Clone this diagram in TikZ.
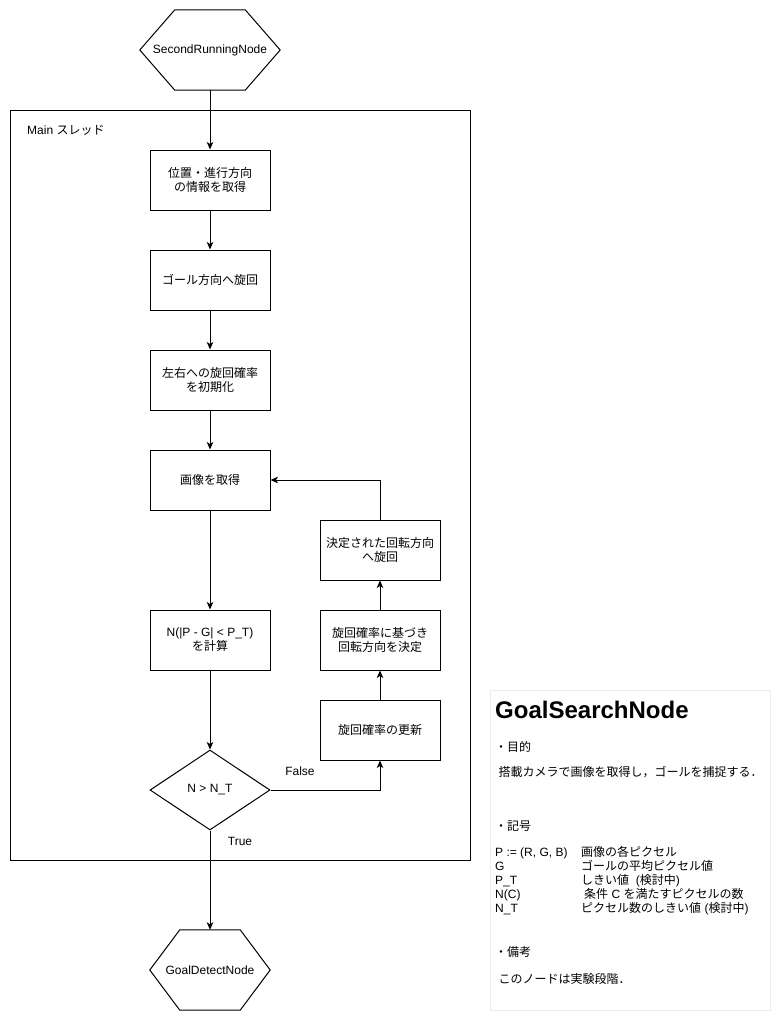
\documentclass[tikz,border=0pt]{standalone}
\usepackage{fontspec}
\setmainfont{Liberation Sans}
\newfontfamily\jp{Noto Sans CJK JP}
\usetikzlibrary{shapes.geometric,arrows.meta}

\begin{document}
\begin{tikzpicture}[x=1pt,y=-1pt,
  font=\fontsize{12}{14}\selectfont,
  ja/.style={font=\fontsize{12}{14}\selectfont\jp},
  proc/.style={draw,line width=1pt,minimum width=120pt,minimum height=60pt,align=center},
  cond/.style={draw,diamond,aspect=1.5,line width=1pt,minimum width=120pt,minimum height=80pt,inner sep=0pt},
  term/.style={minimum height=80pt,inner sep=0pt},
  memo/.style={anchor=base west,inner sep=0pt},
  flow/.style={line width=1pt,-{Stealth[length=7.5pt,width=6.5pt,inset=2pt]}}]
  \useasboundingbox (0,0) rectangle (781,1021);

  \node[draw,line width=1pt,minimum width=460pt,minimum height=750pt] (main) at (240,485) {};
  \node[memo] (mainlbl) at (27,134) {Main {\jp スレッド}};

  \node[term,minimum width=140pt] (srn) at (210,50) {SecondRunningNode};
  \draw[line width=1pt] (srn.west) -- ([xshift=35pt]srn.north west) -- ([xshift=-35pt]srn.north east)
    -- (srn.east) -- ([xshift=-35pt]srn.south east) -- ([xshift=35pt]srn.south west) -- cycle;

  \node[proc,ja] (pos) at (210,180) {位置・進行方向\\の情報を取得};
  \node[proc,ja] (turn) at (210,280) {ゴール方向へ旋回};
  \node[proc,ja] (init) at (210,380) {左右への旋回確率\\を初期化};
  \node[proc,ja] (img) at (210,480) {画像を取得};
  \node[proc] (calc) at (210,640) {N(|P - G| < P\_T)\\{\jp を計算}};
  \node[cond] (cmp) at (210,790) {N > N\_T};

  \node[proc,ja] (upd) at (380,730) {旋回確率の更新};
  \node[proc,ja] (dirdec) at (380,640) {旋回確率に基づき\\回転方向を決定};
  \node[proc,ja] (rot) at (380,550) {決定された回転方向\\へ旋回};

  \node[term,minimum width=120pt] (gdn) at (210,970) {GoalDetectNode};
  \draw[line width=1pt] (gdn.west) -- ([xshift=30pt]gdn.north west) -- ([xshift=-30pt]gdn.north east)
    -- (gdn.east) -- ([xshift=-30pt]gdn.south east) -- ([xshift=30pt]gdn.south west) -- cycle;

  \node[inner sep=0pt] (lfalse) at (300,771) {False};
  \node[inner sep=0pt] (ltrue) at (240,841) {True};

  \draw[flow] (srn) -- (pos);
  \draw[flow] (pos) -- (turn);
  \draw[flow] (turn) -- (init);
  \draw[flow] (init) -- (img);
  \draw[flow] (img) -- (calc);
  \draw[flow] (calc) -- (cmp);
  \draw[flow] (cmp.east) -| (upd);
  \draw[flow] (upd) -- (dirdec);
  \draw[flow] (dirdec) -- (rot);
  \draw[flow] (rot) |- (img);
  \draw[flow] (cmp) -- (gdn);

  \node[draw=black!8,minimum width=280pt,minimum height=320pt] (note) at (630,850) {};
  \node[memo,font=\fontsize{24}{28}\selectfont\bfseries] (title) at (495,718) {GoalSearchNode};
  \node[memo,ja] (purp) at (495,751) {・目的};
  \node[memo,ja] (purptxt) at (498.5,776) {搭載カメラで画像を取得し，ゴールを捕捉する．};
  \node[memo,ja] (sym) at (495,830.5) {・記号};
  \node[memo] (symp) at (495,856.5) {\makebox[86pt][l]{P := (R, G, B)}{\jp 画像の各ピクセル}};
  \node[memo] (symg) at (495,870.5) {\makebox[86pt][l]{G}{\jp ゴールの平均ピクセル値}};
  \node[memo] (sympt) at (495,884.5) {\makebox[86pt][l]{P\_T}{\jp しきい値}\ \ ({\jp 検討中})};
  \node[memo] (symnc) at (495,898.5) {\makebox[89pt][l]{N(C)}{\jp 条件} C {\jp を満たすピクセルの数}};
  \node[memo] (symnt) at (495,912.5) {\makebox[86pt][l]{N\_T}{\jp ピクセル数のしきい値} ({\jp 検討中})};
  \node[memo,ja] (rem) at (495,956) {・備考};
  \node[memo,ja] (remtxt) at (498.5,983.5) {このノードは実験段階．};
\end{tikzpicture}
\end{document}
